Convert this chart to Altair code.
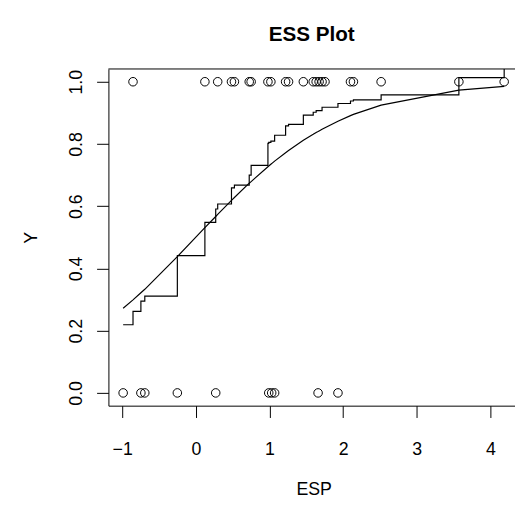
import altair as alt
import pandas as pd

# ESP values (sorted), binary response, fitted logistic values, step-smoother values
esp = [-0.987, -0.853, -0.746, -0.693, -0.251, 0.123, 0.270, 0.297, 0.484, 0.524,
       0.725, 0.751, 0.979, 0.990, 1.019, 1.030, 1.070, 1.219, 1.259, 1.460,
       1.594, 1.634, 1.660, 1.674, 1.714, 1.754, 1.930, 2.100, 2.140, 2.516,
       3.572, 4.187]
resp = [0, 1, 0, 0, 0, 1, 0, 1, 1, 1,
        1, 1, 1, 0, 1, 0, 0, 1, 1, 1,
        1, 1, 0, 1, 1, 1, 0, 1, 1, 1,
        1, 1]
fitted = [0.272, 0.299, 0.322, 0.333, 0.438, 0.531, 0.567, 0.574, 0.619, 0.628,
          0.674, 0.679, 0.727, 0.729, 0.735, 0.737, 0.745, 0.772, 0.779, 0.812,
          0.831, 0.837, 0.840, 0.842, 0.847, 0.852, 0.873, 0.891, 0.895, 0.925,
          0.973, 0.985]
smooth = [0.219, 0.262, 0.295, 0.311, 0.441, 0.548, 0.591, 0.607, 0.659, 0.668,
          0.700, 0.731, 0.802, 0.805, 0.809, 0.809, 0.828, 0.858, 0.863, 0.893,
          0.902, 0.907, 0.907, 0.907, 0.918, 0.918, 0.930, 0.938, 0.942, 0.958,
          1.013, 1.070]

x_ticks = [-1, 0, 1, 2, 3, 4]
y_ticks = [0.0, 0.2, 0.4, 0.6, 0.8, 1.0]
x_domain = [-1.187, 4.334]
y_domain = [-0.041, 1.041]

df = pd.DataFrame({"ESP": esp, "Y": resp, "fit": fitted, "smooth": smooth})

FONT = "Liberation Sans"

xscale = alt.Scale(domain=x_domain, nice=False, zero=False)
yscale = alt.Scale(domain=y_domain, nice=False, zero=False)

xaxis = alt.Axis(values=x_ticks, title="ESP", tickSize=12, labelPadding=38,
                 labelBaseline="alphabetic", labelFontSize=18, labelFont=FONT,
                 format="d",
                 labelExpr="replace(datum.label, '-', '\u2212')",
                 titleFont=FONT, titleFontSize=18, titleFontWeight="normal",
                 titleX=208.5, titleY=90, titleBaseline="alphabetic", titleAlign="center")
yaxis = alt.Axis(values=y_ticks, title="Y", tickSize=12, labelPadding=15,
                 labelAngle=270, labelAlign="center", labelBaseline="alphabetic",
                 labelFontSize=18, labelFont=FONT, format=".1f",
                 titleFont=FONT, titleFontSize=18, titleFontWeight="normal",
                 titleAngle=270, titleX=-73.5, titleY=171, titleBaseline="alphabetic",
                 titleAlign="center")

base = alt.Chart(df)

points = base.mark_point(shape="circle", filled=False, color="black", size=75,
                         strokeWidth=1, opacity=1).encode(
    x=alt.X("ESP:Q", scale=xscale, axis=xaxis),
    y=alt.Y("Y:Q", scale=yscale, axis=yaxis),
)

curve = base.mark_line(color="black", strokeWidth=1.2).encode(
    x="ESP:Q", y="fit:Q")

step = base.mark_line(color="black", strokeWidth=1.2, interpolate="step-after",
                      clip=True).encode(x="ESP:Q", y="smooth:Q")

topline = alt.Chart(pd.DataFrame({"a": [0]})).mark_rule(color="black", strokeWidth=1).encode(
    x=alt.datum(x_domain[0]), x2=alt.datum(x_domain[1]), y=alt.datum(y_domain[1]))

chart = alt.layer(points, curve, step, topline).properties(
    width=413, height=342,
    title=alt.TitleParams(text="ESS Plot", font=FONT, fontSize=21, fontWeight="bold",
                          anchor="middle", frame="group", baseline="alphabetic",
                          offset=7, color="black"),
    autosize=alt.AutoSizeParams(type="none"),
    padding={"left": 102, "top": 58, "right": 0, "bottom": 100},
).configure_view(stroke=None).configure_axis(
    grid=False, domainColor="black", tickColor="black", labelColor="black",
    titleColor="black", domainWidth=1, tickWidth=1
)

chart.save("out.html", embed_options={"renderer": "svg", "actions": False})
